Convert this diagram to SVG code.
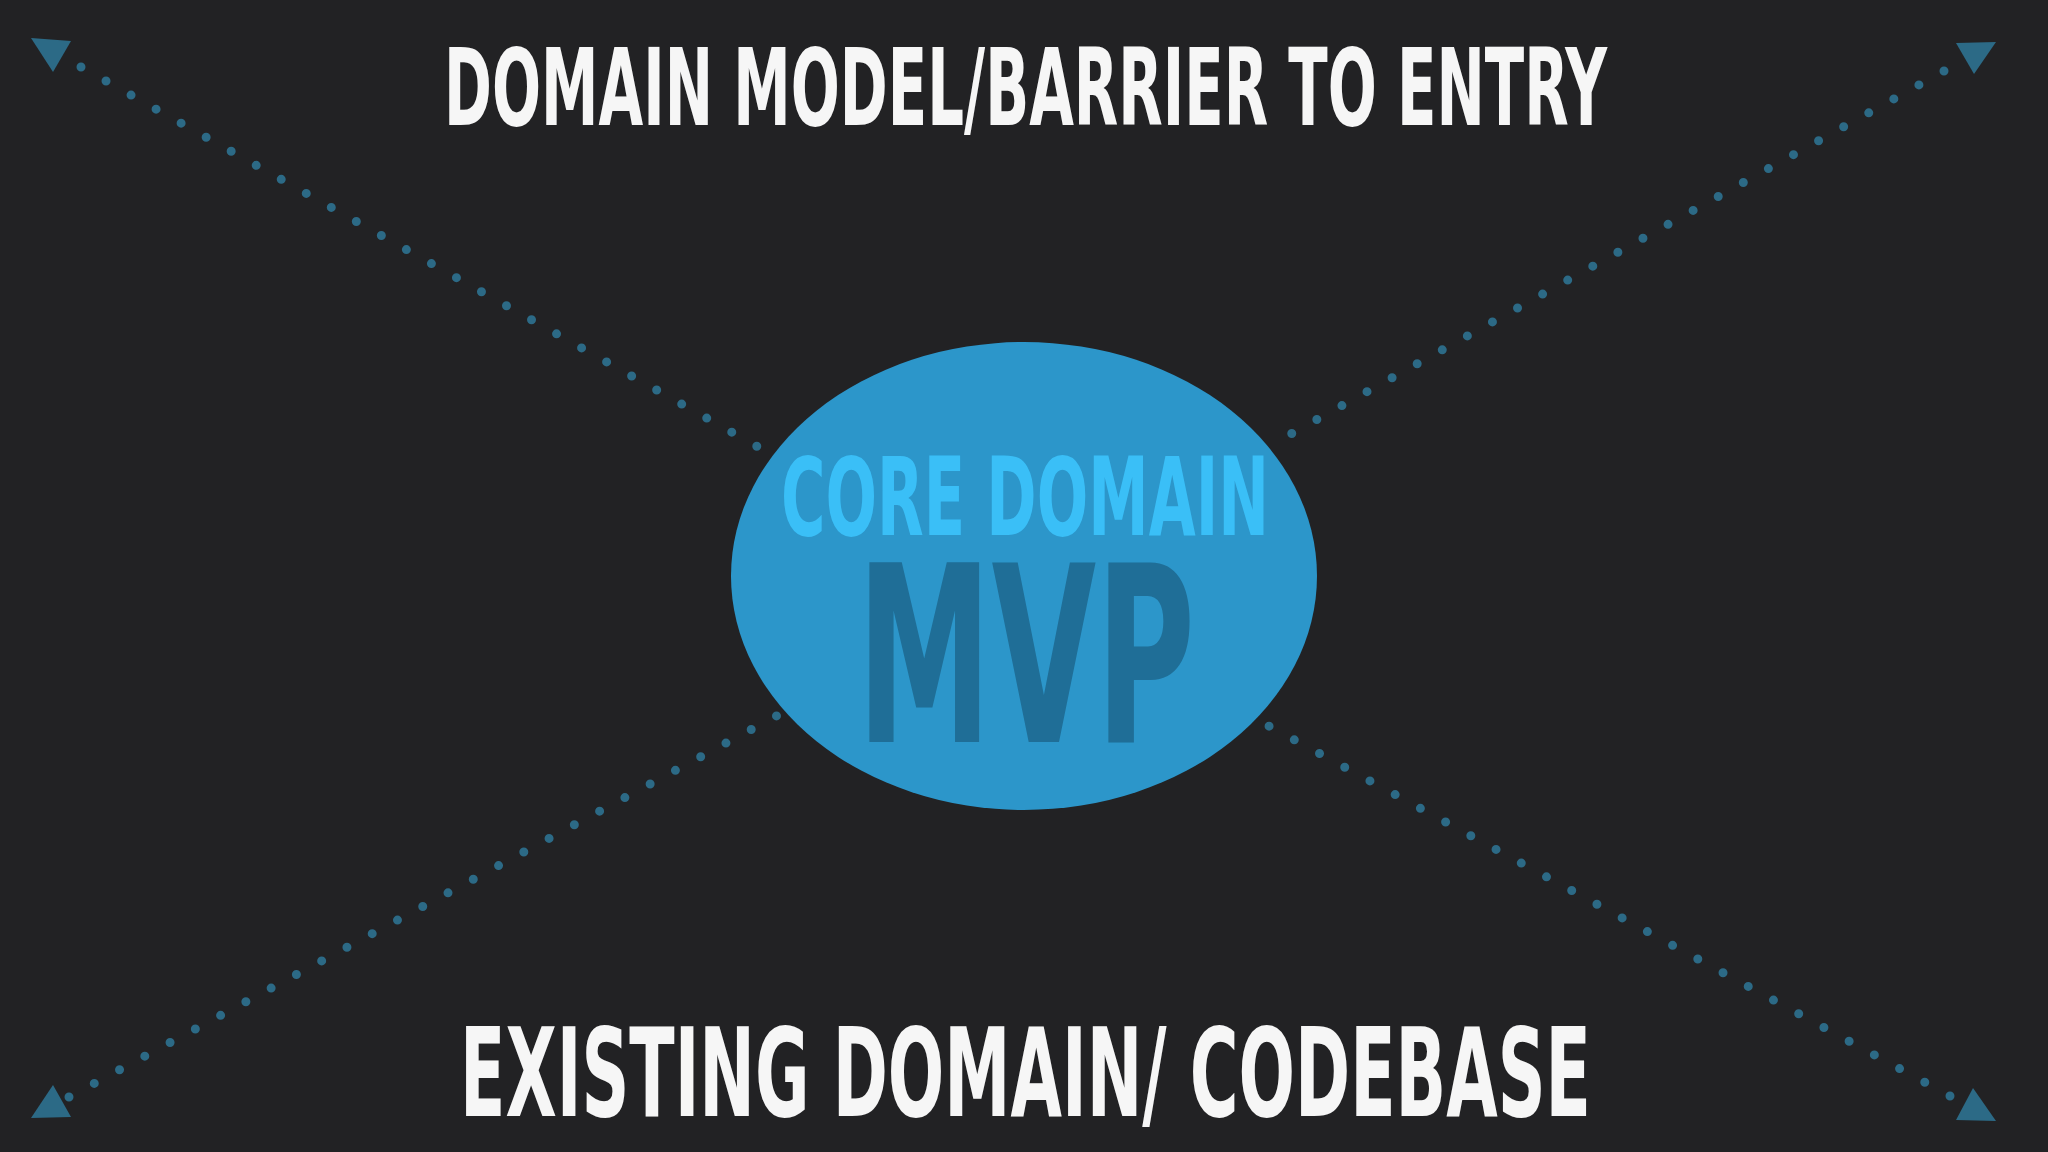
<svg xmlns="http://www.w3.org/2000/svg" width="2048" height="1152" viewBox="0 0 2048 1152">
<style>
.bg{fill:#222224}
.title{font-family:"DejaVu Sans Condensed","DejaVu Sans",sans-serif;font-weight:bold;fill:#f6f6f6}
.dots{stroke:#2c6a86;stroke-width:9;stroke-linecap:round;stroke-dasharray:0 28.7;fill:none}
.head{fill:#2c6a86}
.core{fill:#2c96ca}
.coretxt{font-family:"DejaVu Sans Condensed","DejaVu Sans",sans-serif;font-weight:bold;fill:#3abff7}
.mvp{font-family:"DejaVu Sans Condensed","DejaVu Sans",sans-serif;font-weight:bold;fill:#1f6e97}
</style>
<rect class="bg" x="0" y="0" width="2048" height="1152"/>
<g id="connectors">
<line class="dots" x1="81" y1="67" x2="760" y2="448"/>
<line class="dots" x1="1944" y1="71" x2="1289" y2="435"/>
<line class="dots" x1="69" y1="1097" x2="780" y2="714"/>
<line class="dots" x1="1950" y1="1096" x2="1267" y2="725"/>
<polygon class="head" points="31,38 71,41 53,72"/>
<polygon class="head" points="1956,43 1996,42 1974,74"/>
<polygon class="head" points="31,1118 71,1117 53,1085"/>
<polygon class="head" points="1956,1120 1996,1121 1973,1088"/>
</g>
<g id="title">
<text class="title" x="444" y="125" font-size="107" textLength="1163" lengthAdjust="spacingAndGlyphs">DOMAIN MODEL/BARRIER TO ENTRY</text>
</g>
<g id="core-domain">
<ellipse class="core" cx="1024" cy="576" rx="293" ry="234"/>
<text class="coretxt" x="781" y="535" font-size="108" textLength="488" lengthAdjust="spacingAndGlyphs">CORE DOMAIN</text>
<text class="mvp" x="857" y="742" font-size="247" textLength="338" lengthAdjust="spacingAndGlyphs">MVP</text>
</g>
<g id="existing">
<text class="title" x="460" y="1116" font-size="123" textLength="1131" lengthAdjust="spacingAndGlyphs">EXISTING DOMAIN/ CODEBASE</text>
</g>
</svg>
